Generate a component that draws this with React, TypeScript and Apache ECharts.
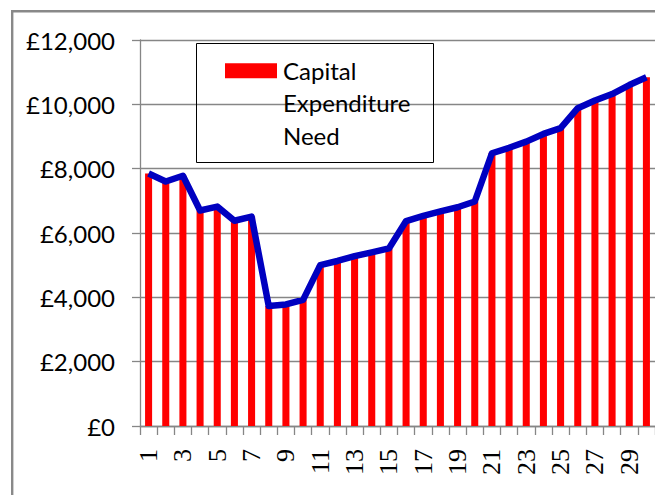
import React, { useEffect, useRef } from "react";
import * as echarts from "echarts";

const categories: string[] = Array.from({ length: 30 }, (_, i) => String(i + 1));
const capitalNeed: number[] = [
  7850, 7600, 7780, 6700, 6820, 6380, 6510, 3730, 3780, 3920,
  5000, 5130, 5280, 5400, 5520, 6370, 6530, 6670, 6800, 6980,
  8480, 8650, 8840, 9080, 9260, 9880, 10120, 10320, 10600, 10840,
];
const legendLines: string[] = ["Capital", "Expenditure", "Need"];

const SANS = "Lato, 'Noto Sans', sans-serif";
const SERIF = "'Liberation Serif', 'DejaVu Serif', serif";

export default function App() {
  const ref = useRef<HTMLDivElement>(null);
  useEffect(() => {
    if (!ref.current) return;
    const chart = echarts.init(ref.current, undefined, { renderer: "svg" });
    chart.setOption({
      animation: false,
      backgroundColor: "#ffffff",
      grid: { left: 140, top: 40, bottom: 69, right: -8.3, containLabel: false },
      xAxis: {
        type: "category",
        data: categories,
        boundaryGap: true,
        axisLine: { show: true, lineStyle: { color: "#868686", width: 1.3 } },
        axisTick: { show: true, interval: 0, length: 9, lineStyle: { color: "#868686", width: 1.3 } },
        axisLabel: {
          interval: 1,
          rotate: 90,
          margin: 23,
          color: "#000",
          fontFamily: SERIF,
          fontSize: 26,
        },
        splitLine: { show: false },
      },
      yAxis: {
        type: "value",
        min: 0,
        max: 12000,
        interval: 2000,
        axisLine: { show: true, lineStyle: { color: "#868686", width: 1.3 } },
        axisTick: { show: true, length: 8, lineStyle: { color: "#868686", width: 1.3 } },
        axisLabel: {
          margin: 25,
          color: "#000",
          fontFamily: SANS,
          fontSize: 24,
          formatter: (v: number) => "£" + v.toLocaleString("en-GB"),
        },
        splitLine: { show: true, lineStyle: { color: "#868686", width: 1.3 } },
      },
      series: [
        {
          name: "Capital Expenditure Need",
          type: "bar",
          data: capitalNeed,
          barWidth: "41%",
          itemStyle: { color: "#FF0000" },
          z: 2,
        },
        {
          name: "Trend",
          type: "line",
          data: capitalNeed,
          showSymbol: false,
          symbol: "none",
          lineStyle: { color: "#0000C0", width: 6.5, join: "round" },
          z: 3,
        },
      ],
      graphic: [
        {
          type: "rect",
          shape: { x: 12.2, y: 11.2, width: 720, height: 620 },
          style: { fill: "none", stroke: "#898989", lineWidth: 2.4 },
          silent: true,
        },
        {
          type: "rect",
          shape: { x: 196.5, y: 43.5, width: 237, height: 119 },
          style: { fill: "none", stroke: "#000", lineWidth: 1 },
          silent: true,
          z: 10,
        },
        {
          type: "rect",
          shape: { x: 225, y: 63.3, width: 52, height: 15 },
          style: { fill: "#FF0000" },
          silent: true,
          z: 10,
        },
        ...legendLines.map((t, i) => ({
          type: "text",
          x: 283,
          y: 70 + i * 32.5,
          style: {
            text: t,
            fill: "#000",
            font: `24px ${SANS}`,
            verticalAlign: "middle",
            align: "left",
          },
          silent: true,
          z: 10,
        })),
      ],
    });
    return () => chart.dispose();
  }, []);
  return (
    <div
      ref={ref}
      style={{ position: "absolute", left: 0, top: 0, width: 655, height: 495, overflow: "hidden" }}
    />
  );
}
